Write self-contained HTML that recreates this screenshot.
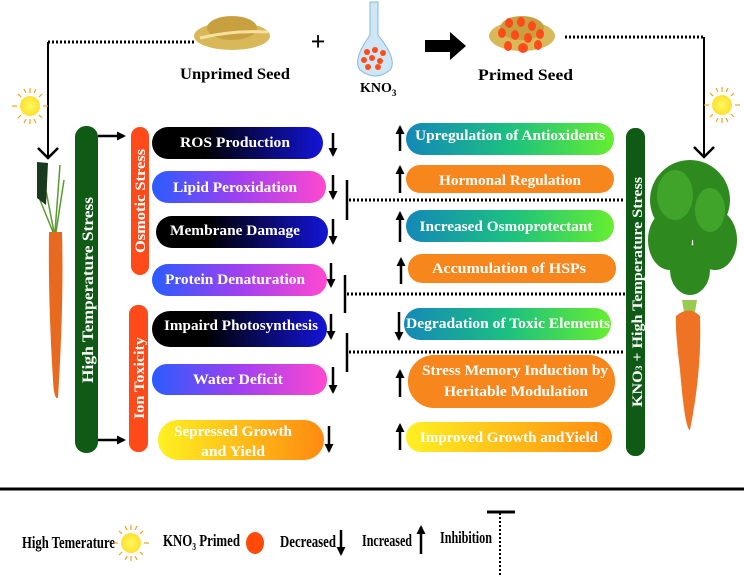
<!DOCTYPE html>
<html><head><meta charset="utf-8"><style>
body{margin:0;background:#fff}
svg{display:block}
text{font-family:"Liberation Serif",serif;font-weight:bold}
</style></head><body>
<svg width="744" height="576" viewBox="0 0 744 576" xmlns="http://www.w3.org/2000/svg">
<defs>
<linearGradient id="kb" x1="0" x2="1"><stop offset="0.3" stop-color="#000"/><stop offset="1" stop-color="#1414d8"/></linearGradient>
<linearGradient id="bm" x1="0" x2="1"><stop offset="0" stop-color="#2a5cff"/><stop offset="0.5" stop-color="#a040f0"/><stop offset="1" stop-color="#ff48d0"/></linearGradient>
<linearGradient id="yo" x1="0" x2="1"><stop offset="0" stop-color="#fff022"/><stop offset="1" stop-color="#ff8a10"/></linearGradient>
<linearGradient id="tg" x1="0" x2="1"><stop offset="0" stop-color="#1488b8"/><stop offset="0.5" stop-color="#1cc080"/><stop offset="1" stop-color="#66ee30"/></linearGradient>
<radialGradient id="sun"><stop offset="0" stop-color="#fff860"/><stop offset="1" stop-color="#ffe030"/></radialGradient>
<marker id="ah" markerWidth="10" markerHeight="10" refX="7" refY="4.5" orient="auto" markerUnits="userSpaceOnUse"><path d="M0,0 L9,4.5 L0,9 z" fill="#000"/></marker>
<g id="sunG"><g stroke="#f7a020" stroke-width="1.2"><line x1="0" y1="-18" x2="0" y2="-13"/><line x1="0" y1="13" x2="0" y2="18"/><line x1="-18" y1="0" x2="-13" y2="0"/><line x1="13" y1="0" x2="18" y2="0"/><line x1="-12" y1="-12" x2="-9" y2="-9"/><line x1="12" y1="12" x2="9" y2="9"/><line x1="12" y1="-12" x2="9" y2="-9"/><line x1="-12" y1="12" x2="-9" y2="9"/><line x1="-6" y1="-17" x2="-4" y2="-13"/><line x1="6" y1="17" x2="4" y2="13"/><line x1="6" y1="-17" x2="4" y2="-13"/><line x1="-6" y1="17" x2="-4" y2="13"/></g><circle r="10" fill="url(#sun)"/></g>
</defs>

<line x1="48" y1="42" x2="195" y2="42" stroke="#000" stroke-width="3" stroke-dasharray="2,2"/>
<line x1="565" y1="37" x2="704" y2="37" stroke="#000" stroke-width="3" stroke-dasharray="2,2"/>
<line x1="48" y1="42" x2="48" y2="158" stroke="#000" stroke-width="2"/>
<path d="M38,148 L48,158 L58,148" fill="none" stroke="#000" stroke-width="2.5"/>
<line x1="704" y1="37" x2="704" y2="157" stroke="#000" stroke-width="2"/>
<path d="M694,147 L704,157 L714,147" fill="none" stroke="#000" stroke-width="2.5"/>

<ellipse cx="232" cy="36" rx="38" ry="14" fill="#d9b85a"/>
<ellipse cx="232" cy="28" rx="25" ry="12" fill="#c9a040"/>
<path d="M200,38 Q232,30 268,32" stroke="#f5e0a0" stroke-width="3" fill="none"/>
<text x="318" y="50" font-size="26" font-weight="normal" text-anchor="middle">+</text>
<path d="M370,2 L378,2 L378,35 Q398,60 390,70 Q375,82 360,70 Q352,60 370,35 z" fill="#cfe6f5" stroke="#8ab8d8"/>
<g fill="#ff4a1a"><circle cx="367" cy="52" r="3"/><circle cx="375" cy="50" r="3"/><circle cx="383" cy="53" r="3"/><circle cx="364" cy="60" r="3"/><circle cx="372" cy="58" r="3"/><circle cx="380" cy="61" r="3"/><circle cx="368" cy="67" r="3"/><circle cx="378" cy="67" r="3"/></g>
<path d="M425,40 L450,40 L450,32 L466,46 L450,60 L450,52 L425,52 z" fill="#000"/>
<ellipse cx="522" cy="36" rx="33" ry="15" fill="#d9b85a"/>
<ellipse cx="522" cy="28" rx="22" ry="12" fill="#c9a040"/>
<g fill="#ff4a1a"><ellipse cx="509" cy="23" rx="4" ry="5"/><ellipse cx="521" cy="22" rx="4" ry="5"/><ellipse cx="532" cy="26" rx="4" ry="5"/><ellipse cx="502" cy="33" rx="4" ry="5"/><ellipse cx="515" cy="35" rx="4" ry="5"/><ellipse cx="528" cy="38" rx="4" ry="5"/><ellipse cx="540" cy="34" rx="4" ry="5"/><ellipse cx="508" cy="46" rx="4" ry="5"/><ellipse cx="523" cy="48" rx="5" ry="5"/><ellipse cx="538" cy="45" rx="4" ry="5"/></g>
<text x="180" y="79" font-size="16" textLength="110" lengthAdjust="spacingAndGlyphs">Unprimed Seed</text>
<text x="360" y="92" font-size="14">KNO<tspan font-size="9" dy="4">3</tspan></text>
<text x="478" y="80" font-size="16" textLength="95" lengthAdjust="spacingAndGlyphs">Primed Seed</text>

<use href="#sunG" x="30" y="106"/>
<use href="#sunG" x="722" y="105"/>

<g stroke="#5a9a30" stroke-width="1.5" fill="none"><path d="M54,232 L42,170"/><path d="M55,232 L60,165"/><path d="M56,232 L64,180"/><path d="M53,232 L40,200"/></g>
<path d="M37,162 L48,163 L46,205 L37,198 z" fill="#1a3a20"/>
<path d="M49,232 L62,232 Q64,300 58,398 Q54,400 53,380 Q48,300 49,232 z" fill="#e86a20"/>
<g fill="#2e8a1e"><ellipse cx="690" cy="200" rx="40" ry="40"/><ellipse cx="670" cy="240" rx="22" ry="30"/><ellipse cx="715" cy="240" rx="22" ry="30"/><ellipse cx="690" cy="270" rx="20" ry="25"/></g>
<g fill="#4ab030" opacity="0.7"><ellipse cx="675" cy="195" rx="18" ry="25"/><ellipse cx="710" cy="210" rx="15" ry="22"/></g>
<path d="M682,300 L697,300 L695,312 L684,312 z" fill="#9ac850"/>
<path d="M676,316 Q689,305 700,316 Q702,370 690,430 Q685,430 680,370 Q675,330 676,316 z" fill="#ee7325"/>

<rect x="75" y="126" width="23" height="327" rx="11" fill="#0f5a14"/>
<text transform="translate(93,290) rotate(-90)" font-size="16" fill="#fff" text-anchor="middle" textLength="186" lengthAdjust="spacingAndGlyphs">High Temperature Stress</text>
<line x1="98" y1="136" x2="124" y2="136" stroke="#000" stroke-width="2.5" marker-end="url(#ah)"/>
<line x1="98" y1="440" x2="124" y2="440" stroke="#000" stroke-width="2.5" marker-end="url(#ah)"/>
<rect x="131" y="127" width="18" height="148" rx="9" fill="#ff4a1a"/>
<text transform="translate(145,201) rotate(-90)" font-size="15" fill="#fff" text-anchor="middle" textLength="104" lengthAdjust="spacingAndGlyphs">Osmotic Stress</text>
<rect x="129" y="305" width="19" height="147" rx="9" fill="#ff4a1a"/>
<text transform="translate(144,378) rotate(-90)" font-size="15" fill="#fff" text-anchor="middle" textLength="82" lengthAdjust="spacingAndGlyphs">Ion Toxicity</text>

<g font-size="15" fill="#fff" text-anchor="middle">
<rect x="152" y="127" width="171" height="32" rx="16" fill="url(#kb)"/><text x="235" y="147" fill="#fff" textLength="110" lengthAdjust="spacingAndGlyphs">ROS Production</text>
<rect x="152" y="171" width="174" height="32" rx="16" fill="url(#bm)"/><text x="235" y="192" fill="#fff" textLength="124" lengthAdjust="spacingAndGlyphs">Lipid Peroxidation</text>
<rect x="156" y="216" width="172" height="32" rx="16" fill="url(#kb)"/><text x="235" y="235" fill="#fff" textLength="130" lengthAdjust="spacingAndGlyphs">Membrane Damage</text>
<rect x="152" y="264" width="175" height="32" rx="16" fill="url(#bm)"/><text x="235" y="284" fill="#fff" textLength="140" lengthAdjust="spacingAndGlyphs">Protein Denaturation</text>
<rect x="152" y="311" width="175" height="36" rx="18" fill="url(#kb)"/><text x="241" y="330" fill="#fff" textLength="154" lengthAdjust="spacingAndGlyphs">Impaird Photosynthesis</text>
<rect x="152" y="364" width="175" height="31" rx="15" fill="url(#bm)"/><text x="238" y="384" fill="#fff" textLength="90" lengthAdjust="spacingAndGlyphs">Water Deficit</text>
<rect x="158" y="420" width="166" height="40" rx="20" fill="url(#yo)"/><text x="233" y="436" fill="#fff" textLength="118" lengthAdjust="spacingAndGlyphs">Sepressed Growth</text><text x="233" y="456" fill="#fff" textLength="64" lengthAdjust="spacingAndGlyphs">and Yield</text>
</g>
<g stroke="#000" stroke-width="2.5">
<line x1="333" y1="133" x2="333" y2="155" marker-end="url(#ah)"/>
<line x1="333" y1="175" x2="333" y2="198" marker-end="url(#ah)"/>
<line x1="333" y1="219" x2="333" y2="243" marker-end="url(#ah)"/>
<line x1="331" y1="263" x2="331" y2="286" marker-end="url(#ah)"/>
<line x1="331" y1="314" x2="331" y2="338" marker-end="url(#ah)"/>
<line x1="333" y1="367" x2="333" y2="392" marker-end="url(#ah)"/>
<line x1="329" y1="426" x2="329" y2="451" marker-end="url(#ah)"/>
</g>

<g stroke="#000">
<line x1="347" y1="180" x2="347" y2="220" stroke-width="2.5"/>
<line x1="349" y1="200" x2="625" y2="200" stroke-width="3" stroke-dasharray="2,2"/>
<line x1="345" y1="275" x2="345" y2="313" stroke-width="2.5"/>
<line x1="347" y1="294" x2="625" y2="294" stroke-width="3" stroke-dasharray="2,2"/>
<line x1="347" y1="333" x2="347" y2="372" stroke-width="2.5"/>
<line x1="349" y1="352" x2="625" y2="352" stroke-width="3" stroke-dasharray="2,2"/>
</g>

<g font-size="15" text-anchor="middle">
<rect x="406" y="123" width="208" height="32" rx="16" fill="url(#tg)"/><text x="510" y="140" fill="#fff" textLength="190" lengthAdjust="spacingAndGlyphs">Upregulation of Antioxidents</text>
<rect x="406" y="165" width="208" height="28" rx="14" fill="#f7861c"/><text x="510" y="185" fill="#fff" textLength="142" lengthAdjust="spacingAndGlyphs">Hormonal Regulation</text>
<rect x="406" y="210" width="208" height="32" rx="16" fill="url(#tg)"/><text x="506" y="231" fill="#fff" textLength="173" lengthAdjust="spacingAndGlyphs">Increased Osmoprotectant</text>
<rect x="408" y="254" width="208" height="29" rx="14" fill="#f7861c"/><text x="509" y="273" fill="#fff" textLength="154" lengthAdjust="spacingAndGlyphs">Accumulation of  HSPs</text>
<rect x="404" y="308" width="207" height="32" rx="16" fill="url(#tg)"/><text x="508" y="328" fill="#fff" textLength="204" lengthAdjust="spacingAndGlyphs">Degradation of Toxic Elements</text>
<rect x="408" y="355" width="207" height="53" rx="26" fill="#f7861c"/><text x="515" y="375" fill="#fff" textLength="186" lengthAdjust="spacingAndGlyphs">Stress Memory Induction by</text><text x="516" y="396" fill="#fff" textLength="144" lengthAdjust="spacingAndGlyphs">Heritable Modulation</text>
<rect x="406" y="422" width="206" height="30" rx="15" fill="url(#yo)"/><text x="509" y="442" fill="#fff" textLength="178" lengthAdjust="spacingAndGlyphs">Improved Growth andYield</text>
</g>
<g stroke="#000" stroke-width="2.5">
<line x1="400" y1="151" x2="400" y2="127" marker-end="url(#ah)"/>
<line x1="400" y1="193" x2="400" y2="167" marker-end="url(#ah)"/>
<line x1="400" y1="242" x2="400" y2="213" marker-end="url(#ah)"/>
<line x1="401" y1="284" x2="401" y2="259" marker-end="url(#ah)"/>
<line x1="399" y1="312" x2="399" y2="339" marker-end="url(#ah)"/>
<line x1="400" y1="397" x2="400" y2="371" marker-end="url(#ah)"/>
<line x1="400" y1="450" x2="400" y2="425" marker-end="url(#ah)"/>
</g>
<rect x="626" y="128" width="19" height="328" rx="9" fill="#0f5a14"/>
<text transform="translate(642,292) rotate(-90)" font-size="15" fill="#fff" text-anchor="middle" textLength="230" lengthAdjust="spacingAndGlyphs">KNO<tspan font-size="9">3</tspan> + High Temperature Stress</text>

<line x1="0" y1="489" x2="744" y2="489" stroke="#000" stroke-width="3"/>
<text x="22" y="548" font-size="17" textLength="93" lengthAdjust="spacingAndGlyphs">High Temerature</text>
<use href="#sunG" x="131" y="543"/>
<text x="163" y="546" font-size="17" textLength="77" lengthAdjust="spacingAndGlyphs">KNO<tspan font-size="10" dy="4">3</tspan><tspan dy="-4"> Primed</tspan></text>
<ellipse cx="255" cy="543" rx="9" ry="11" fill="#ff4a0a"/>
<text x="280" y="547" font-size="17" textLength="56" lengthAdjust="spacingAndGlyphs">Decreased</text>
<line x1="341" y1="530" x2="341" y2="554" stroke="#000" stroke-width="2.5" marker-end="url(#ah)"/>
<text x="362" y="546" font-size="17" textLength="50" lengthAdjust="spacingAndGlyphs">Increased</text>
<line x1="421" y1="554" x2="421" y2="527" stroke="#000" stroke-width="2.5" marker-end="url(#ah)"/>
<text x="440" y="543" font-size="17" textLength="52" lengthAdjust="spacingAndGlyphs">Inhibition</text>
<line x1="487" y1="512" x2="515" y2="512" stroke="#000" stroke-width="3"/>
<line x1="500" y1="513" x2="500" y2="576" stroke="#000" stroke-width="2" stroke-dasharray="2,2"/>
</svg>
</body></html>
